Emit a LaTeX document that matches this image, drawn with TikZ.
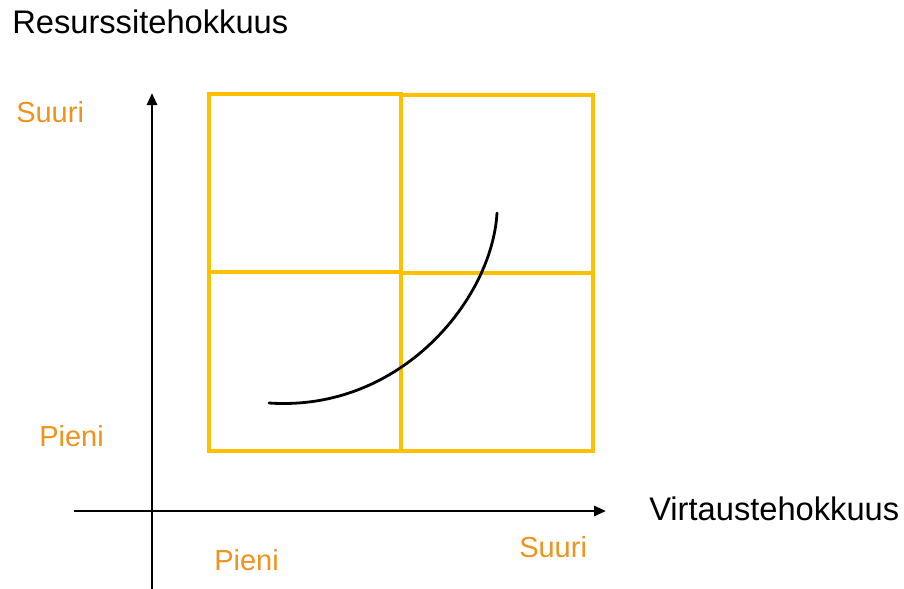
\documentclass[tikz,border=0pt]{standalone}
\usepackage{fontspec}
\setmainfont{Liberation Sans}
\usepackage{tikz}
\usetikzlibrary{arrows.meta,positioning}
\definecolor{quadgold}{RGB}{255,192,0}
\definecolor{lblorange}{RGB}{240,146,30}

\begin{document}
\begin{tikzpicture}[x=0.75pt, y=-0.75pt,
  quad/.style={draw=quadgold, line width=2.3pt, inner sep=0pt, outer sep=0pt,
    minimum width=144pt, minimum height=133.5pt},
  axislbl/.style={anchor=base west, inner sep=0pt, font=\fontsize{24.5}{28}\selectfont},
  levellbl/.style={anchor=base west, inner sep=0pt, text=lblorange,
    font=\fontsize{21.75}{26}\selectfont},
  axis/.style={-{Triangle[length=9pt, width=7.5pt]}, line width=2.1pt},
  curvepath/.style={line width=2.1pt, line cap=round}
]
  \useasboundingbox (0,0) rectangle (904,589);
  % quadrants
  \node[quad] (qtl) at (305,183) {};
  \node[quad] (qtr) at (497,184) {};
  \node[quad, minimum height=134.25pt] (qbl) at (305,361.5) {};
  \node[quad] (qbr) at (497,362) {};
  % axes
  \coordinate (ybot) at (152,589);
  \coordinate (ytop) at (152,93);
  \coordinate (xleft) at (74,511);
  \coordinate (xright) at (606,511);
  \draw[axis] (ybot) -- (ytop);
  \draw[axis] (xleft) -- (xright);
  % curve
  \coordinate (cstart) at (269,403);
  \coordinate (cend) at (497,213);
  \draw[curvepath] (cstart) .. controls (400,412) and (492,300) .. (cend);
  % labels
  \node[axislbl] (ylabel) at (12,33) {Resurssitehokkuus};
  \node[axislbl] (xlabel) at (649,520) {Virtaustehokkuus};
  \node[levellbl] (yhigh) at (16,122) {Suuri};
  \node[levellbl] (ylow) at (39,446) {Pieni};
  \node[levellbl] (xlow) at (214,570) {Pieni};
  \node[levellbl] (xhigh) at (519,557) {Suuri};
\end{tikzpicture}
\end{document}
